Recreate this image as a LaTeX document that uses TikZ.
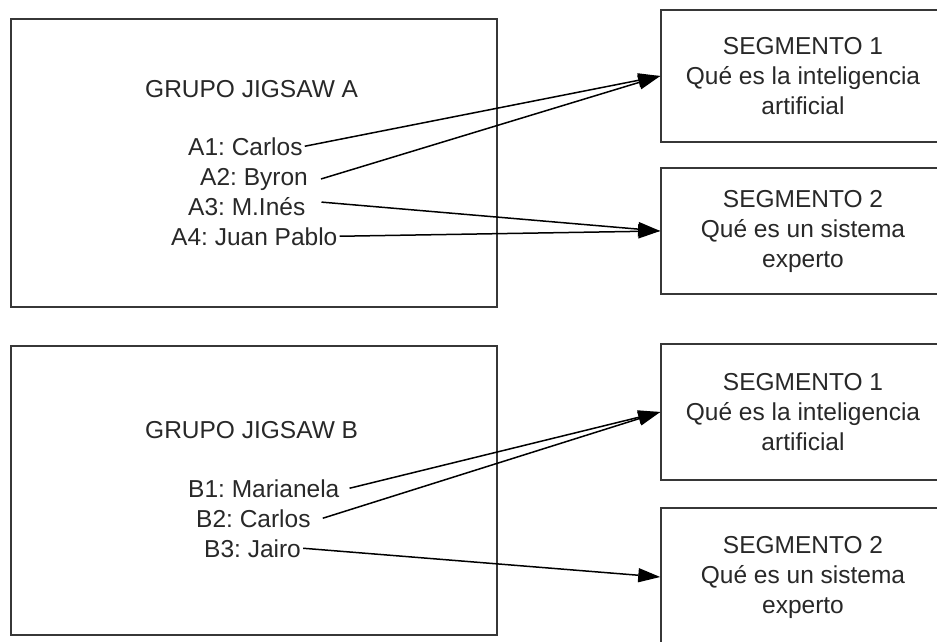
\documentclass[tikz,border=0pt]{standalone}
\usepackage{fontspec}
\setmainfont{Liberation Sans}
\usetikzlibrary{arrows.meta}
\definecolor{boxgray}{RGB}{55,55,55}
\definecolor{txtgray}{RGB}{40,40,40}
\frenchspacing
\begin{document}
\begin{tikzpicture}[x=1pt,y=-1pt,
  font=\fontsize{24.5}{30}\selectfont,
  grpbox/.style={draw=boxgray, line width=1.5pt, inner sep=0pt, minimum width=486pt},
  segbox/.style={draw=boxgray, line width=1.5pt, inner sep=0pt, align=center, text=txtgray, minimum width=284pt},
  lbl/.style={anchor=base west, inner sep=0pt, text=txtgray},
  arr/.style={line width=1.5pt, draw=black, -{Triangle[length=22pt,width=14pt]}}]
\useasboundingbox (0,0) rectangle (937,642);
\clip (0,0) rectangle (937,642);

% group boxes
\node[grpbox, minimum height=288pt] (ga) at (254,163) {};
\node[grpbox, minimum height=289pt] (gb) at (254,490.5) {};

% segment boxes
\node[segbox, minimum height=132pt] (s1a) at (803,76) {SEGMENTO 1\\Qué es la inteligencia\\artificial};
\node[segbox, minimum height=126pt] (s2a) at (803,231) {SEGMENTO 2\\Qué es un sistema\\experto};
\node[segbox, minimum height=136pt] (s1b) at (803,412) {SEGMENTO 1\\Qué es la inteligencia\\artificial};
\node[segbox, minimum height=138pt] (s2b) at (803,577) {SEGMENTO 2\\Qué es un sistema\\experto};

% group A texts
\node[lbl] (ta) at (145,97) {GRUPO JIGSAW A};
\node[lbl] (a1) at (188,155) {A1: Carlos};
\node[lbl] (a2) at (200,185) {A2: Byron};
\node[lbl] (a3) at (188,215) {A3: M.Inés};
\node[lbl] (a4) at (171,245) {A4: Juan Pablo};

% group B texts
\node[lbl] (tb) at (145,438) {GRUPO JIGSAW B};
\node[lbl] (b1) at (188,497) {B1: Marianela};
\node[lbl] (b2) at (196,527) {B2: Carlos};
\node[lbl] (b3) at (204,557) {B3: Jairo};

% connectors
\draw[arr] ([xshift=2pt]a1.east) -- (s1a.west);
\draw[arr] ([xshift=13pt]a2.east) -- (s1a.west);
\draw[arr] ([shift={(16,-4)}]a3.east) -- (s2a.west);
\draw[arr] ([xshift=2pt]a4.east) -- (s2a.west);
\draw[arr] ([xshift=10pt]b1.east) -- (s1b.west);
\draw[arr] ([xshift=12pt]b2.east) -- (s1b.west);
\draw[arr] ([xshift=2pt]b3.east) -- (s2b.west);
\end{tikzpicture}
\end{document}
